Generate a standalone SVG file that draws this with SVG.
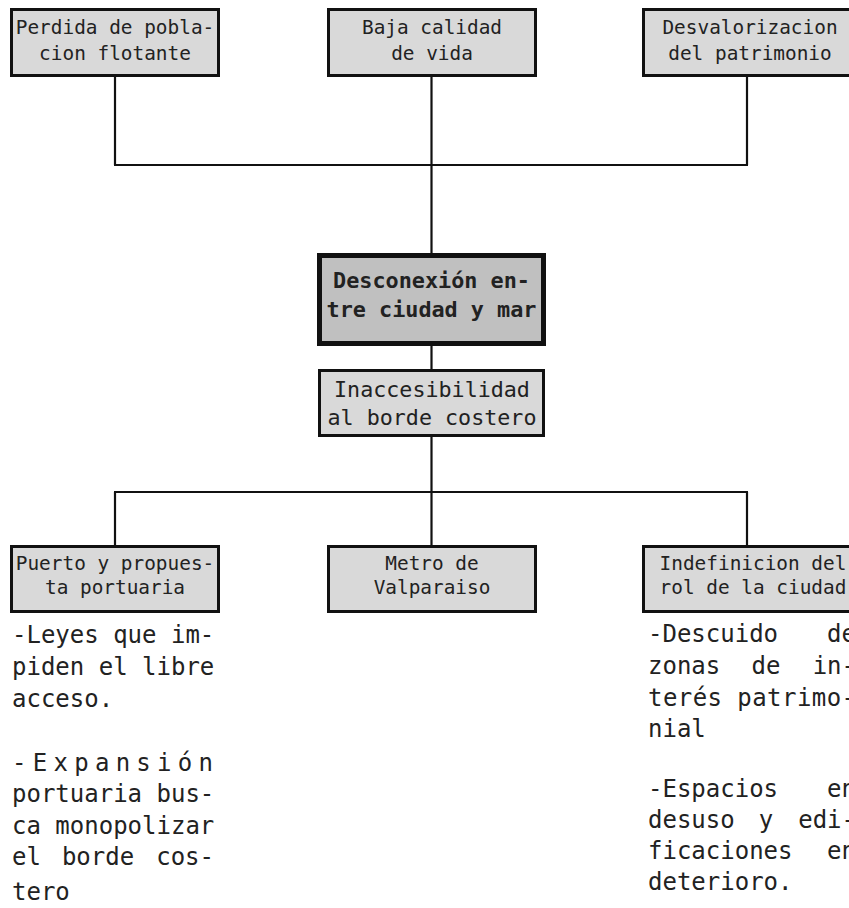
<svg xmlns="http://www.w3.org/2000/svg" width="849" height="908" viewBox="0 0 849 908">
<style>
.box{fill:#d9d9d9;stroke:#111;stroke-width:3}
.main{fill:#c0c0c0;stroke:#111;stroke-width:5}
.t{font-family:"DejaVu Sans Mono","Liberation Mono",monospace;font-size:19.4px;fill:#222;text-anchor:middle}
.tb{font-family:"DejaVu Sans Mono","Liberation Mono",monospace;font-size:21.8px;font-weight:bold;fill:#222;text-anchor:middle}
.tm{font-family:"DejaVu Sans Mono","Liberation Mono",monospace;font-size:21.7px;fill:#222;text-anchor:middle}
.body{font-family:"DejaVu Sans Mono","Liberation Mono",monospace;font-size:24px;fill:#222}
.e{text-anchor:end}
.c{text-anchor:middle}
.conn line{stroke:#111;stroke-width:2.2}
</style>
<rect width="849" height="908" fill="#fff"/>
<g class="conn" id="connectors">
<line x1="115" y1="77" x2="115" y2="165"/>
<line x1="431.5" y1="77" x2="431.5" y2="253"/>
<line x1="747" y1="77" x2="747" y2="165"/>
<line x1="114" y1="165" x2="748" y2="165"/>
<line x1="431.5" y1="346" x2="431.5" y2="369"/>
<line x1="431.5" y1="437" x2="431.5" y2="545"/>
<line x1="114" y1="492" x2="748" y2="492"/>
<line x1="115" y1="492" x2="115" y2="545"/>
<line x1="747" y1="492" x2="747" y2="545"/>
</g>
<g id="n1"><rect class="box" x="11.5" y="9.5" width="207" height="66"/><text class="t" x="115" y="34">Perdida de pobla-</text><text class="t" x="115" y="60">cion flotante</text></g>
<g id="n2"><rect class="box" x="328.5" y="9.5" width="207" height="66"/><text class="t" x="432" y="34">Baja calidad</text><text class="t" x="432" y="60">de vida</text></g>
<g id="n3"><rect class="box" x="643.5" y="9.5" width="207" height="66"/><text class="t" x="750" y="34">Desvalorizacion</text><text class="t" x="750" y="60">del patrimonio</text></g>
<g id="n4"><rect class="main" x="319.5" y="255.5" width="224" height="88"/><text class="tb" x="431.5" y="288">Desconexión en-</text><text class="tb" x="431.5" y="317">tre ciudad y mar</text></g>
<g id="n5"><rect class="box" x="319.5" y="370.5" width="224" height="65"/><text class="tm" x="432" y="397">Inaccesibilidad</text><text class="tm" x="432" y="425">al borde costero</text></g>
<g id="n6"><rect class="box" x="11.5" y="546.5" width="207" height="65"/><text class="t" x="115" y="570">Puerto y propues-</text><text class="t" x="115" y="594">ta portuaria</text></g>
<g id="n7"><rect class="box" x="328.5" y="546.5" width="207" height="65"/><text class="t" x="432" y="570">Metro de</text><text class="t" x="432" y="594">Valparaiso</text></g>
<g id="n8"><rect class="box" x="643.5" y="546.5" width="207" height="65"/><text class="t" x="753" y="570">Indefinicion del</text><text class="t" x="753" y="594">rol de la ciudad</text></g>
<g id="notes-left">
<text class="body" x="12" y="643">-Leyes que im-</text>
<text class="body" x="12" y="675">piden el libre</text>
<text class="body" x="12" y="707">acceso.</text>
<text class="body" x="12" y="771" textLength="201" lengthAdjust="spacing">-Expansión</text>
<text class="body" x="12" y="802">portuaria bus-</text>
<text class="body" x="12" y="834">ca monopolizar</text>
<text class="body" x="12" y="865">el</text><text class="body c" x="98" y="865">borde</text><text class="body e" x="214" y="865">cos-</text>
<text class="body" x="12" y="900">tero</text>
</g>
<g id="notes-right">
<text class="body" x="648" y="642">-Descuido</text><text class="body e" x="856" y="642">de</text>
<text class="body" x="648" y="674">zonas</text><text class="body c" x="766" y="674">de</text><text class="body e" x="856" y="674">in-</text>
<text class="body" x="648" y="706" textLength="208" lengthAdjust="spacing">terés patrimo-</text>
<text class="body" x="648" y="737">nial</text>
<text class="body" x="648" y="797">-Espacios</text><text class="body e" x="856" y="797">en</text>
<text class="body" x="648" y="828">desuso</text><text class="body c" x="766" y="828">y</text><text class="body e" x="856" y="828">edi-</text>
<text class="body" x="648" y="859">ficaciones</text><text class="body e" x="856" y="859">en</text>
<text class="body" x="648" y="890">deterioro.</text>
</g>
</svg>
